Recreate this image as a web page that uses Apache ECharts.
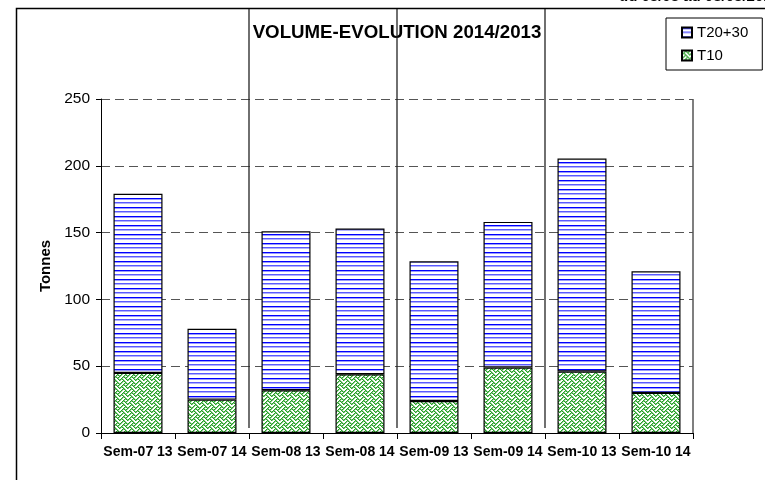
<!DOCTYPE html>
<html><head><meta charset="utf-8">
<script src="https://cdn.jsdelivr.net/npm/echarts@6/dist/echarts.min.js"></script>
<style>html,body{margin:0;padding:0;background:#fff}#c{width:765px;height:480px}</style>
</head><body><div id="c"></div>
<script>
const categories = ['Sem-07 13','Sem-07 14','Sem-08 13','Sem-08 14','Sem-09 13','Sem-09 14','Sem-10 13','Sem-10 14'];
const t10 = [45, 25, 32, 44, 24, 49, 46, 30];
const t2030 = [134, 53, 119, 109, 104.5, 109, 159.5, 91];
const yTicks = [0, 50, 100, 150, 200, 250];
const legendNames = ['T20+30', 'T10'];
const titleText = 'VOLUME-EVOLUTION 2014/2013';
const periodText = 'du 03/03 au 08/03/2014';
const yName = 'Tonnes';

const FONT = 'Liberation Sans, Arial, Helvetica, sans-serif';

function makeBluePattern(){
  const c = document.createElement('canvas'); c.width = 4; c.height = 9;
  const g = c.getContext('2d');
  g.fillStyle = '#ffffff'; g.fillRect(0,0,4,9);
  g.fillStyle = '#0000ff'; g.fillRect(0,0,4,1);
  g.fillStyle = '#9a9aff'; g.fillRect(0,1,4,1);
  g.fillStyle = '#5a5aff'; g.fillRect(0,4,4,1);
  g.fillStyle = '#b0b0ff'; g.fillRect(0,5,4,1);
  return c;
}
function makeGreenPattern(){
  const bits = [0x11,0x2a,0x44,0xa2,0x11,0x28,0x44,0x8a];
  const c = document.createElement('canvas'); c.width = 8; c.height = 8;
  const g = c.getContext('2d');
  g.fillStyle = '#ffffff'; g.fillRect(0,0,8,8);
  for (let y = 0; y < 8; y++) for (let x = 0; x < 8; x++) {
    if (bits[y] & (0x80 >> x)) {
      g.fillStyle = '#8ccc8c'; g.fillRect((x+1)%8, y, 1, 1);
    }
  }
  for (let y = 0; y < 8; y++) for (let x = 0; x < 8; x++) {
    if (bits[y] & (0x80 >> x)) { g.fillStyle = '#23a023'; g.fillRect(x, y, 1, 1); }
  }
  return c;
}
const bluePat = { image: makeBluePattern(), repeat: 'repeat' };
const greenPat = { image: makeGreenPattern(), repeat: 'repeat' };

const chart = echarts.init(document.getElementById('c'), null, { renderer: 'canvas' });
const option = {
  animation: false,
  backgroundColor: '#fff',
  textStyle: { fontFamily: FONT },
  grid: { left: 101, right: 72, top: 99, bottom: 47 },
  legend: {
    data: legendNames, orient: 'vertical', left: 666, top: 18,
    icon: 'rect', itemWidth: 10, itemHeight: 10, itemGap: 8,
    padding: [7, 14, 7, 15], borderColor: '#000', borderWidth: 1, backgroundColor: '#fff',
    textStyle: { fontSize: 15, color: '#000', lineHeight: 15, fontFamily: FONT }
  },
  xAxis: {
    type: 'category', data: categories,
    axisLine: { lineStyle: { color: '#000', width: 1 } },
    axisTick: { show: true, length: 6, interval: 0, lineStyle: { color: '#000' } },
    axisLabel: { interval: 0, fontWeight: 'bold', fontSize: 14, color: '#000', margin: 12, fontFamily: FONT }
  },
  yAxis: {
    type: 'value', min: yTicks[0], max: yTicks[yTicks.length-1], interval: yTicks[1]-yTicks[0],
    name: yName, nameLocation: 'middle', nameGap: 48,
    nameTextStyle: { fontWeight: 'bold', fontSize: 15, color: '#000', fontFamily: FONT },
    axisLine: { show: true, lineStyle: { color: '#000' } },
    axisTick: { show: true, length: 5, lineStyle: { color: '#000' } },
    axisLabel: { fontSize: 15.5, color: '#000', margin: 11, fontFamily: FONT },
    splitLine: { show: true, lineStyle: { color: '#555', type: [9, 5], width: 1 } }
  },
  series: [
    { name: 'T10', type: 'bar', stack: 'v', data: t10, barWidth: 49,
      itemStyle: { color: greenPat, borderColor: '#000', borderWidth: 1.2 } },
    { name: 'T20+30', type: 'bar', stack: 'v', data: t2030, barWidth: 49,
      itemStyle: { color: bluePat, borderColor: '#000', borderWidth: 1.2 } }
  ]
};
chart.setOption(option);

// decorations computed from the library's scales
const y0 = chart.convertToPixel({ yAxisIndex: 0 }, 0);
const yTop = chart.convertToPixel({ yAxisIndex: 0 }, yTicks[yTicks.length-1]);
const cx = categories.map(c => chart.convertToPixel({ xAxisIndex: 0 }, c));
const step = cx[1] - cx[0];
const rightEdge = cx[cx.length-1] + step/2;
const sepLines = [2, 4, 6].map(i => {
  const x = (cx[i-1] + cx[i]) / 2;
  return { type: 'line', z: 1, shape: { x1: x, y1: 9, x2: x, y2: y0 - 5 },
           style: { stroke: '#222', lineWidth: 1.3 } };
});
chart.setOption({
  graphic: [
    { type: 'rect', z: 0, shape: { x: 16.5, y: 8.5, width: 900, height: 600 },
      style: { fill: 'none', stroke: '#000', lineWidth: 1.5 } },
    { type: 'text', x: 397, y: 33, style: { text: titleText, font: 'bold 18.7px ' + FONT, fill: '#000',
      align: 'center', verticalAlign: 'middle', textAlign: 'center', textVerticalAlign: 'middle' } },
    { type: 'text', x: 619, y: 4, style: { text: periodText, font: 'bold 15px ' + FONT, fill: '#000',
      align: 'left', verticalAlign: 'bottom', textAlign: 'left', textVerticalAlign: 'bottom' } },
    { type: 'line', z: 1, shape: { x1: rightEdge, y1: yTop, x2: rightEdge, y2: y0 },
      style: { stroke: '#555', lineWidth: 1.5 } }
  ].concat(sepLines)
});
</script>
</body></html>
